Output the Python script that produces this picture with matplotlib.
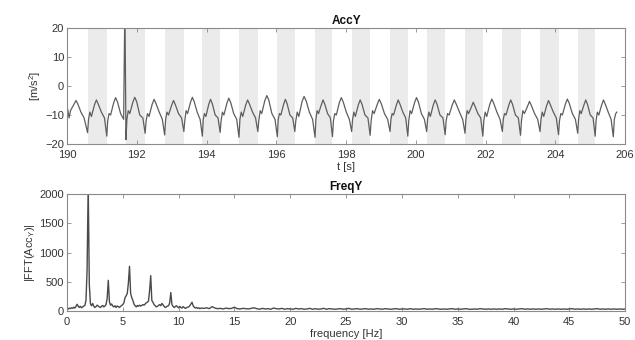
import matplotlib
matplotlib.use("Agg")
import matplotlib.pyplot as plt
import numpy as np

plt.rcParams['font.family'] = ['Liberation Sans', 'DejaVu Sans']
plt.rcParams['mathtext.fontset'] = 'custom'
plt.rcParams['mathtext.rm'] = 'Liberation Sans'
plt.rcParams['mathtext.it'] = 'Liberation Sans'

# --- AccY time signal ---
# minima of each step (foot strikes), shaded bands run between every other pair
step_t = [190.59, 191.14, 191.69, 192.24, 192.80, 193.35, 193.88, 194.39, 194.93, 195.47,
          196.03, 196.53, 197.11, 197.61, 198.16, 198.69, 199.26, 199.77, 200.31, 200.84,
          201.41, 201.92, 202.48, 203.00, 203.56, 204.09, 204.64, 205.14, 205.66]
step_min = [-16.1, -17.3, -18.5, -16.3, -16.9, -15.7, -17.3, -16.0, -17.7, -15.7,
            -17.5, -15.7, -17.7, -17.5, -15.7, -17.0, -15.7, -17.3, -15.7, -16.8,
            -16.3, -17.3, -15.7, -17.0, -15.7, -16.8, -16.3, -17.3, -17.5]
# per-cycle vertices: rise, shoulder, notch, climb, peak, fall, knee, pre-drop
rise = [-11.5, -12.0, -11.5, -12.0, -11.5, -12.0, -11.5, -12.0, -11.5, -12.0, -11.5, -12.0, -11.5, -12.0,
        -11.5, -12.0, -11.5, -12.0, -11.5, -12.0, -11.5, -12.0, -11.5, -12.0, -11.5, -12.0, -11.5, -12.0]
shoulder = [-9.0, -9.5, -8.5, -9.5, -9.0, -8.5, -9.5, -9.0, -9.0, -8.5, -9.5, -9.0, -8.5, -9.5,
            -9.0, -8.5, -9.5, -8.5, -9.0, -9.5, -8.5, -9.0, -9.5, -8.5, -9.0, -9.5, -8.5, -9.0]
notch = [-10.5, -10.0, -9.5, -10.5, -10.0, -9.5, -10.5, -10.0, -10.5, -9.5, -10.0, -10.5, -9.5, -10.0,
         -10.5, -9.5, -10.0, -9.5, -10.5, -10.0, -9.5, -10.5, -10.0, -9.5, -10.5, -10.0, -9.5, -10.0]
climb = [-6.5, -5.8, -5.6, -6.3, -6.7, -5.6, -6.3, -5.9, -6.5, -5.0, -6.3, -5.3,
         -6.5, -5.7, -6.5, -6.3, -6.5, -5.7, -6.5, -6.5, -7.2, -6.2, -6.5, -7.0, -6.7, -6.2, -6.5, -6.5]
peak = [-4.8, -4.0, -3.9, -4.6, -5.0, -3.9, -4.6, -4.2, -4.8, -3.3, -4.6, -3.6,
        -4.8, -4.0, -4.8, -4.6, -4.8, -4.0, -4.8, -4.8, -5.6, -4.5, -4.8, -5.3, -5.0, -4.5, -4.8, -4.8]
fall = [-6.3, -5.5, -5.4, -6.1, -6.5, -5.4, -6.1, -5.7, -6.3, -4.8, -6.1, -5.1,
        -6.3, -5.5, -6.3, -6.1, -6.3, -5.5, -6.3, -6.3, -7.0, -6.0, -6.3, -6.8, -6.5, -6.0, -6.3, -6.3]
knee = [-9.0, -9.5, -10.0, -9.0, -9.5, -9.0, -10.0, -9.5, -9.0, -9.5, -10.0, -9.0, -9.5, -9.0,
        -10.0, -9.5, -9.0, -9.5, -10.0, -9.0, -9.5, -9.0, -10.0, -9.5, -9.0, -9.5, -10.0, -9.0]
predrop = [-11.0, -11.5, -11.0, -11.5, -11.0, -11.5, -11.0, -11.5, -11.0, -11.5, -11.0, -11.5, -11.0, -11.5,
           -11.0, -11.5, -11.0, -11.5, -11.0, -11.5, -11.0, -11.5, -11.0, -11.5, -11.0, -11.5, -11.0, -11.5]
# partial cycle before first minimum and after the last one
head_t = [190.02, 190.06, 190.10, 190.20, 190.26, 190.31, 190.40, 190.49]
head_y = [-8.0, -11.0, -8.5, -6.3, -5.0, -6.2, -9.0, -11.0]
tail_t = [205.69, 205.73, 205.76]
tail_y = [-11.5, -9.5, -9.0]
spike_t = 191.66
spike_y = 30.0

# --- FreqY spectrum ---
freq_lo = np.round(np.arange(0, 12.01, 0.1), 2)
fft_lo = [10, 35, 50, 40, 55, 45, 65, 50, 75, 115,
          85, 60, 80, 55, 70, 85, 95, 180, 700, 2150,
          450, 120, 90, 130, 80, 60, 75, 100, 85, 70,
          60, 80, 95, 70, 85, 110, 220, 525, 160, 100,
          120, 85, 70, 90, 60, 85, 75, 60, 80, 95,
          110, 140, 230, 260, 300, 480, 765, 300, 230, 180,
          120, 90, 70, 95, 80, 100, 85, 95, 110, 100,
          120, 140, 150, 170, 350, 605, 180, 150, 110, 90,
          70, 80, 95, 110, 90, 130, 105, 80, 60, 70,
          85, 90, 140, 315, 110, 80, 60, 75, 90, 70,
          55, 80, 60, 50, 75, 60, 45, 55, 65, 70,
          90, 120, 150, 90, 65, 50, 60, 45, 55, 40,
          50]
freq_hi = np.arange(12.25, 50.01, 0.25)
fft_hi = [45, 55, 40, 75, 50, 40, 45, 35,
          50, 40, 45, 65, 40, 35, 45, 40,
          35, 45, 55, 40, 30, 45, 35, 40,
          30, 50, 40, 35, 45, 30, 40, 35,
          30, 45, 35, 40, 30, 35, 45, 30,
          40, 30, 35, 45, 30, 40, 35, 30,
          35, 40, 30, 35, 45, 30, 35, 40,
          30, 35, 40, 30, 35, 30, 40, 35,
          30, 40, 35, 30, 35, 40, 30, 35,
          35, 30, 40, 30, 35, 30, 35, 40,
          30, 35, 30, 40, 35, 30, 35, 30,
          35, 40, 30, 35, 30, 35, 40, 30,
          30, 35, 30, 40, 35, 30, 35, 30,
          35, 30, 35, 30, 40, 35, 30, 35,
          30, 35, 40, 30, 35, 30, 35, 30,
          35, 30, 35, 40, 30, 35, 30, 35,
          30, 35, 30, 35, 40, 30, 35, 30,
          35, 30, 35, 30, 35, 40, 30, 35,
          30, 35, 30, 35, 30, 35, 30, 35]

# build the AccY polyline (phase of each vertex within a step)
phase = [0.05, 0.12, 0.20, 0.36, 0.46, 0.56, 0.72, 0.88]
acc_t = list(head_t)
acc_y = list(head_y)
for i in range(len(step_t) - 1):
    if i == 2:
        acc_t.append(spike_t)
        acc_y.append(spike_y)
    acc_t.append(step_t[i])
    acc_y.append(step_min[i])
    d = step_t[i + 1] - step_t[i]
    vals = [rise[i], shoulder[i], notch[i], climb[i], peak[i], fall[i], knee[i], predrop[i]]
    for p, v in zip(phase, vals):
        acc_t.append(step_t[i] + p * d)
        acc_y.append(v)
acc_t.append(step_t[-1])
acc_y.append(step_min[-1])
acc_t += tail_t
acc_y += tail_y

freq = np.concatenate([freq_lo, freq_hi])
fft_amp = np.array(fft_lo + fft_hi)

spine_col = '#8a8a8a'
txt_col = '#333333'


def style(ax):
    for s in ax.spines.values():
        s.set_color(spine_col)
        s.set_linewidth(0.8)
    ax.tick_params(direction='in', top=True, right=True, length=3, width=0.6,
                   color=spine_col, labelsize=8, labelcolor=txt_col)
    ax.tick_params(axis='x', pad=4)
    ax.tick_params(axis='y', pad=2)


fig = plt.figure(figsize=(6.35, 3.4), dpi=100)
ax1 = fig.add_axes([0.1055, 0.5765, 0.879, 0.341])
ax2 = fig.add_axes([0.1055, 0.0853, 0.879, 0.344])

for a, b in zip(step_t[0::2], step_t[1::2]):
    ax1.axvspan(a, b, color='#ebebeb', lw=0, zorder=0)
ax1.plot(acc_t, acc_y, color='#5e5e5e', lw=0.9, zorder=2)
ax1.set_xlim(190, 206)
ax1.set_ylim(-20, 20)
ax1.set_xticks(np.arange(190, 207, 2))
ax1.set_yticks([-20, -10, 0, 10, 20])
ax1.set_title('AccY', fontsize=8.5, fontweight='bold', pad=3, color='#111111')
ax1.set_xlabel('t [s]', fontsize=8, color=txt_col, labelpad=2)
ax1.set_ylabel('[m/s$^2$]', fontsize=8, color=txt_col, labelpad=2)
style(ax1)

ax2.plot(freq, fft_amp, color='#4a4a4a', lw=1.0)
ax2.set_xlim(0, 50)
ax2.set_ylim(0, 2000)
ax2.set_xticks(np.arange(0, 51, 5))
ax2.set_yticks([0, 500, 1000, 1500, 2000])
ax2.set_title('FreqY', fontsize=8.5, fontweight='bold', pad=3, color='#111111')
ax2.set_xlabel('frequency [Hz]', fontsize=8, color=txt_col, labelpad=2)
ax2.set_ylabel('|FFT(Acc$_Y$)|', fontsize=8, color=txt_col, labelpad=2)
style(ax2)

fig.savefig('out.png', dpi=100)
